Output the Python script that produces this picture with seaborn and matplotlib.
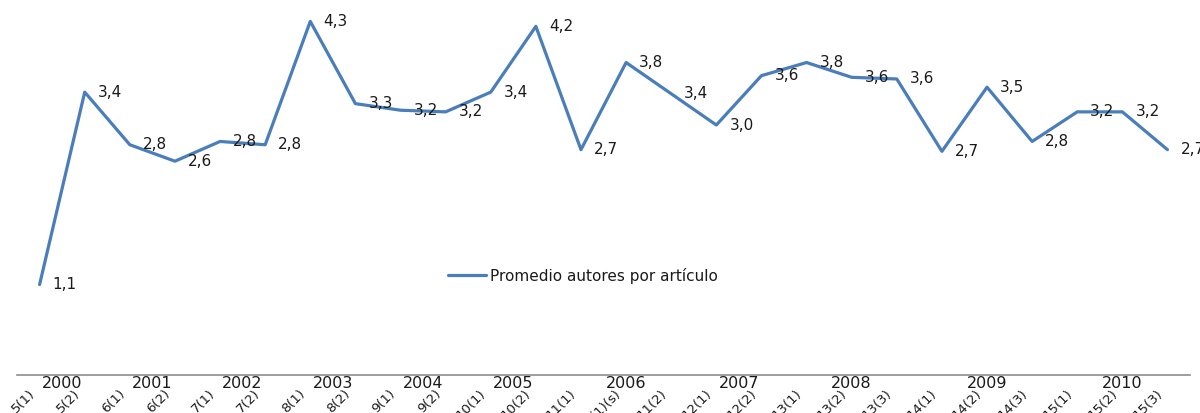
import numpy as np
import pandas as pd
import matplotlib
matplotlib.use("Agg")
import matplotlib.pyplot as plt
import matplotlib.transforms as mtransforms
import seaborn as sns

# ---- data ----
issues = ["5(1)", "5(2)", "6(1)", "6(2)", "7(1)", "7(2)", "8(1)", "8(2)", "9(1)", "9(2)",
          "10(1)", "10(2)", "11(1)", "11(1)(s)", "11(2)", "12(1)", "12(2)", "13(1)", "13(2)",
          "13(3)", "14(1)", "14(2)", "14(3)", "15(1)", "15(2)", "15(3)"]
promedio = [1.1, 3.44, 2.8, 2.6, 2.84, 2.8, 4.3, 3.3, 3.22, 3.2,
            3.44, 4.24, 2.74, 3.8, 3.42, 3.04, 3.64, 3.8, 3.62,
            3.6, 2.72, 3.5, 2.84, 3.2, 3.2, 2.74]
years = ["2000", "2001", "2002", "2003", "2004", "2005", "2006", "2007", "2008", "2009", "2010"]
issues_per_year = [2, 2, 2, 2, 2, 2, 3, 2, 3, 3, 3]
series_name = "Promedio autores por artículo"

df = pd.DataFrame({"pos": np.arange(len(issues)), "valor": promedio, "serie": series_name})

sns.set_theme(style="white")
plt.rcParams["font.family"] = ["DejaVu Sans"]

fig = plt.figure(figsize=(12, 4.13), dpi=100)
ax = fig.add_axes([0.0142, 0.092, 0.9775, 0.896])

line_color = "#4A7EBB"
sns.lineplot(data=df, x="pos", y="valor", hue="serie", palette=[line_color],
             linewidth=2.3, ax=ax, legend=True)

ax.set_xlim(-0.5, len(issues) - 0.5)
ax.set_ylim(0, 4.5)
ax.set_xlabel("")
ax.set_ylabel("")
ax.set_yticks([])

for s in ["top", "right", "left"]:
    ax.spines[s].set_visible(False)
ax.spines["bottom"].set_color("#8c8c8c")
ax.spines["bottom"].set_linewidth(1.2)

# data labels
for x, v in zip(df["pos"], df["valor"]):
    ax.annotate(f"{v:.1f}".replace(".", ","), (x, v), xytext=(13, 0),
                textcoords="offset pixels", ha="left", va="center",
                fontsize=11, color="#1a1a1a", annotation_clip=False)

# category tick labels
ax.set_xticks(df["pos"])
ax.set_xticklabels(issues, rotation=45, ha="right", va="center",
                   rotation_mode="anchor", fontsize=9.5, color="#1a1a1a")
ax.tick_params(axis="x", length=0, pad=12)
offset = mtransforms.ScaledTranslation(-7 / 100, 0, fig.dpi_scale_trans)
for lbl in ax.get_xticklabels():
    lbl.set_transform(lbl.get_transform() + offset)

# year group labels
trans = mtransforms.blended_transform_factory(ax.transData, ax.transAxes)
start = 0
for yr, n in zip(years, issues_per_year):
    center = start + (n - 1) / 2
    ax.text(center, -0.024, yr, transform=trans, ha="center", va="center",
            fontsize=11.5, color="#1a1a1a")
    start += n

leg = ax.legend(loc="center", bbox_to_anchor=(0.4825, 0.268), frameon=False,
                handlelength=2.5, handletextpad=0.3, fontsize=11)
for t in leg.get_texts():
    t.set_color("#1a1a1a")

fig.savefig("out.png", dpi=100)
